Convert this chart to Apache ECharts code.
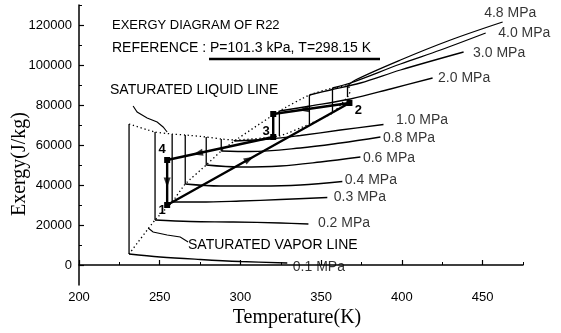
<!DOCTYPE html>
<html><head><meta charset="utf-8">
<script src="https://cdn.jsdelivr.net/npm/echarts@6/dist/echarts.min.js"></script>
<style>html,body{margin:0;padding:0;background:#fff}#c{width:561px;height:333px}</style>
</head><body><div id="c"></div>
<script>
// ---------- data ----------
const pressureLabels = ['0.1 MPa','0.2 MPa','0.3 MPa','0.4 MPa','0.6 MPa','0.8 MPa','1.0 MPa','2.0 MPa','3.0 MPa','4.0 MPa','4.8 MPa'];
const satTemp      = [231.0, 247.1, 257.7, 265.8, 278.8, 288.1, 296.2, 324.1, 342.7, 357.0, 366.3];
const satLiqExergy = [70500, 66500, 65500, 65000, 64000, 63000, 62500, 64500, 70500, 76000, 84000];
const satVapExergy = [5500, 22500, 31500, 40500, 50000, 57000, 62000, 77000, 85000, 88500, 89500];
const criticalPoint = [368.5, 87500];

const superheat_0_1 = [[250.2,4000],[275.1,2750],[299.9,1750],[329.0,1000]];
const superheat_0_2 = [[268.9,21750],[295.5,21500],[324.7,21000],[342.1,20500]];
const superheat_0_3 = [[275.1,31500],[299.9,32000],[324.7,32750],[353.8,33750]];
const superheat_0_4 = [[287.5,39500],[312.3,39500],[337.1,40000],[363.1,41750]];
const superheat_0_6 = [[299.9,49000],[324.7,49500],[349.5,51500],[374.3,54000]];
const superheat_0_8 = [[306.1,56750],[337.1,58500],[361.9,61000],[386.7,64000]];
const superheat_1_0 = [[318.5,63000],[337.1,64750],[361.9,67500],[388.6,70250]];
const superheat_2_0 = [[343.3,79500],[368.1,83000],[392.9,88000],[419.0,93500]];
const superheat_3_0 = [[355.7,87500],[374.3,91000],[399.1,97500],[438.2,106500]];
const superheat_4_0 = [[368.1,91000],[399.1,100500],[423.9,107500],[451.9,116000]];
const superheat_4_8 = [[371.2,92500],[399.1,102500],[430.1,112500],[462.4,121500]];
const superheats = [superheat_0_1,superheat_0_2,superheat_0_3,superheat_0_4,superheat_0_6,superheat_0_8,superheat_1_0,superheat_2_0,superheat_3_0,superheat_4_0,superheat_4_8];

const cycleTemp   = [254.6, 367.5, 320.3, 320.3, 254.6, 254.6];
const cycleExergy = [30000, 81000, 75500, 64000, 52500, 30000];
const cycleNames  = ['1', '2', '', '3', '4', ''];
const arrowSegments = [0, 1, 3, 4];          // segment start index
const arrowFractions = [0.45, 0.6, 0.71, 0.5];

const liquidPointer = [[233.5,79500],[236.0,76500],[242.2,73500],[248.4,71500],[252.1,69000],[254.6,66500]];
const vaporPointer  = [[267.6,11500],[262.7,14000],[254.6,15000],[245.9,16500],[242.8,18500]];

const xTicks = [200,250,300,350,400,450];
const xMinorTicks = [225,275,325,375,425,475];
const yTicks = [0,20000,40000,60000,80000,100000,120000];
const yMinorTicks = [10000,30000,50000,70000,90000,110000,130000];

// ---------- layout / style ----------
const FONT = '"Liberation Sans", Arial, sans-serif';
const SERIF = '"Liberation Serif", "Times New Roman", serif';
const labelOffsets = [[5,4],[9,-1],[6,0],[2,-1],[2,1],[2,1],[12,-4],[5,0],[9,1],[12,0],[-19,-9]];
const pointLabelOffsets = [[-5,5],[9,7],[0,0],[-7,-6],[-5,-11],[0,0]];

const chart = echarts.init(document.getElementById('c'));
const series = [];
const blackLine = (w, type) => ({color:'#000', width:w, type: type || 'solid', opacity:1});

series.push({type:'line', data: satTemp.map((t,i)=>[t,satLiqExergy[i]]).concat([criticalPoint]),
  symbol:'none', smooth:0.15, lineStyle: blackLine(1.3,[1.3,2.7]), silent:true, z:1});
series.push({type:'line', data: satTemp.map((t,i)=>[t,satVapExergy[i]]).concat([criticalPoint]),
  symbol:'none', smooth:0.15, lineStyle: blackLine(1.3,[1.3,2.7]), silent:true, z:1});

satTemp.forEach((t,i)=>{
  series.push({type:'line', data:[[t,satLiqExergy[i]],[t,satVapExergy[i]]], symbol:'none',
    lineStyle: blackLine(1.3), silent:true, z:2});
  series.push({type:'line', data:[[t,satVapExergy[i]]].concat(superheats[i]), symbol:'none', smooth:0.35,
    lineStyle: blackLine(1.3), silent:true, z:2});
});

// isobar name labels at the end of each superheated curve
series.push({type:'scatter', silent:true, z:4, symbolSize:1, itemStyle:{color:'rgba(0,0,0,0)'},
  label:{show:true, position:'right', distance:0, formatter:'{b}', color:'#000', fontFamily:FONT, fontSize:14},
  data: superheats.map((sh,i)=>({name:pressureLabels[i], value:sh[sh.length-1], label:{offset:labelOffsets[i]}}))});

series.push({type:'line', z:5, silent:true,
  data: cycleTemp.map((t,i)=>({value:[t,cycleExergy[i]], symbol: i===5 ? 'none':'rect', symbolSize:6,
     label:{show: !!cycleNames[i], formatter: cycleNames[i], position:'inside', offset: pointLabelOffsets[i],
       color:'#000', fontFamily:FONT, fontSize:13, fontWeight:'bold'}})),
  lineStyle: blackLine(2.4), itemStyle:{color:'#000'}, showAllSymbol:true});

series.push({type:'lines', coordinateSystem:'cartesian2d', polyline:true, silent:true, z:3,
  symbol:['none','arrow'], symbolSize:6, lineStyle: blackLine(1.1),
  data:[{coords: liquidPointer},{coords: vaporPointer}]});

const axisText = {color:'#000', fontFamily:FONT, fontSize:13};
const option = {
  animation:false,
  backgroundColor:'#fff',
  grid:{left:79, right:38, top:5, bottom:48, containLabel:false},
  xAxis:[
    {type:'value', min:200, max:475, interval:50, splitLine:{show:false},
     axisLine:{lineStyle:{color:'#000', width:1.5}},
     axisTick:{inside:true, length:5, customValues:xTicks, lineStyle:{color:'#000', width:1.2}},
     axisLabel:{...axisText, margin:6, customValues:xTicks, formatter:v=>String(v)}},
    {type:'value', min:200, max:475, position:'bottom', splitLine:{show:false},
     axisLine:{show:false}, axisLabel:{show:false},
     axisTick:{inside:true, length:3, customValues:xMinorTicks, lineStyle:{color:'#000', width:1}}}
  ],
  yAxis:[
    {type:'value', min:-10000, max:130000, splitLine:{show:false},
     axisLine:{lineStyle:{color:'#000', width:1.5}},
     axisTick:{inside:true, length:5, customValues:yTicks, lineStyle:{color:'#000', width:1.2}},
     axisLabel:{...axisText, margin:7, customValues:yTicks, formatter:v=>String(v)}},
    {type:'value', min:-10000, max:130000, position:'left', offset:0, splitLine:{show:false},
     axisLine:{show:false}, axisLabel:{show:false},
     axisTick:{inside:true, length:3, customValues:yMinorTicks, lineStyle:{color:'#000', width:1}}}
  ],
  series,
  graphic:[
    {type:'text', left:112, top:19, style:{text:'EXERGY DIAGRAM OF R22', fill:'#000', font:'13px '+FONT}},
    {type:'text', left:112, top:41, style:{text:'REFERENCE : P=101.3 kPa, T=298.15 K', fill:'#000', font:'14px '+FONT}},
    {type:'line', shape:{x1:209, y1:59, x2:380, y2:59}, style:{stroke:'#000', lineWidth:2.5}},
    {type:'text', left:110, top:83, style:{text:'SATURATED LIQUID LINE', fill:'#000', font:'14px '+FONT}},
    {type:'text', left:188, top:238, style:{text:'SATURATED VAPOR LINE', fill:'#000', font:'14px '+FONT}},
    {type:'text', x:20, y:164, rotation:Math.PI/2, style:{text:'Exergy(J/kg)', fill:'#000', font:'20px '+SERIF, align:'center', verticalAlign:'middle'}},
    {type:'text', x:297, y:318, style:{text:'Temperature(K)', fill:'#000', font:'20px '+SERIF, align:'center', verticalAlign:'middle'}}
  ]
};
chart.setOption(option);

// direction arrows along the cycle, oriented from the library's own pixel mapping
const arrowData = arrowSegments.map((s,k)=>{
  const a=[cycleTemp[s],cycleExergy[s]], b=[cycleTemp[s+1],cycleExergy[s+1]], f=arrowFractions[k];
  const p=[a[0]+(b[0]-a[0])*f, a[1]+(b[1]-a[1])*f];
  const pa=chart.convertToPixel({gridIndex:0},a), pb=chart.convertToPixel({gridIndex:0},b);
  const ang=Math.atan2(-(pb[1]-pa[1]), pb[0]-pa[0])*180/Math.PI;
  return {value:p, symbolRotate: ang-90};
});
series.push({type:'scatter', data:arrowData, symbol:'triangle', symbolSize:[7,10], itemStyle:{color:'#000'}, z:6, silent:true});
chart.setOption({series});
</script></body></html>
